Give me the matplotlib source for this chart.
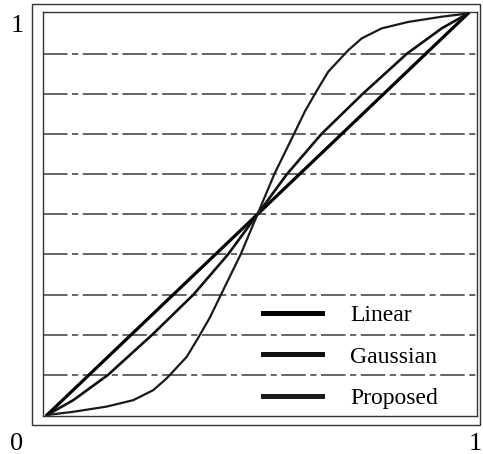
import matplotlib
matplotlib.use("Agg")
import matplotlib.pyplot as plt
from matplotlib.patches import Rectangle

# ---- data ----
linear_x = [0.0, 1.0]
linear_y = [0.0, 1.0]

gauss_x = [0.0, 0.0625, 0.145, 0.25, 0.348, 0.43, 0.5, 0.57, 0.652, 0.75, 0.855, 0.9375, 1.0]
gauss_y = [0.0, 0.037, 0.1, 0.2, 0.3, 0.4, 0.5, 0.6, 0.7, 0.8, 0.9, 0.963, 1.0]

prop_x = [0.0, 0.0625, 0.142, 0.205, 0.2525, 0.284, 0.332, 0.359, 0.387, 0.411, 0.46, 0.5,
          0.54, 0.589, 0.613, 0.641, 0.668, 0.716, 0.7475, 0.795, 0.858, 0.9375, 1.0]
prop_y = [0.0, 0.008, 0.021, 0.037, 0.062, 0.091, 0.145, 0.192, 0.243, 0.295, 0.4, 0.5,
          0.6, 0.705, 0.757, 0.808, 0.855, 0.909, 0.938, 0.963, 0.979, 0.992, 1.0]

grid_levels = [0.1, 0.2, 0.3, 0.4, 0.5, 0.6, 0.7, 0.8, 0.9]
labels = ["Linear", "Gaussian", "Proposed"]

W, H = 483, 454
fig = plt.figure(figsize=(W / 100, H / 100), dpi=100)
serif = "Liberation Serif"

ax = fig.add_axes([43 / W, (H - 416) / H, 434 / W, 404 / H])
ax.set_xlim(-4 / 421, 1 + 9 / 421)
ax.set_ylim(-1 / 401.5, 1 + 1.5 / 401.5)

for g in grid_levels:
    ax.axhline(g, color="#3a3a3a", lw=1.1, dashes=(16, 3, 4, 3), zorder=1)

ax.plot(linear_x, linear_y, color="black", lw=2.3, label=labels[0], zorder=3,
        solid_joinstyle="round")
ax.plot(gauss_x, gauss_y, color="#111111", lw=1.9, label=labels[1], zorder=3,
        solid_joinstyle="round")
ax.plot(prop_x, prop_y, color="#1a1a1a", lw=1.6, label=labels[2], zorder=3,
        solid_joinstyle="round")

ax.set_xticks([])
ax.set_yticks([])
for s in ax.spines.values():
    s.set_color("#333333")
    s.set_linewidth(1.0)

leg = ax.legend(loc="lower left", bbox_to_anchor=(263 / W, (H - 409) / H),
                bbox_transform=fig.transFigure, frameon=False,
                prop={"family": serif, "size": 17}, handlelength=2.5,
                handletextpad=1.19, labelspacing=0.84, borderpad=0.0,
                borderaxespad=0.0)
for ln in leg.get_lines():
    ln.set_linewidth(3.6)

# outer frame
fig.add_artist(Rectangle((32 / W, (H - 425) / H), 448 / W, 421 / H,
                         transform=fig.transFigure, fill=False,
                         edgecolor="#333333", lw=1.0))

fig.text(17 / W, 1 - 26 / H, "1", family=serif, size=19, ha="center", va="center")
fig.text(17 / W, 1 - 444 / H, "0", family=serif, size=19, ha="center", va="center")
fig.text(475 / W, 1 - 444 / H, "1", family=serif, size=19, ha="center", va="center")

fig.savefig("out.png", dpi=100)
